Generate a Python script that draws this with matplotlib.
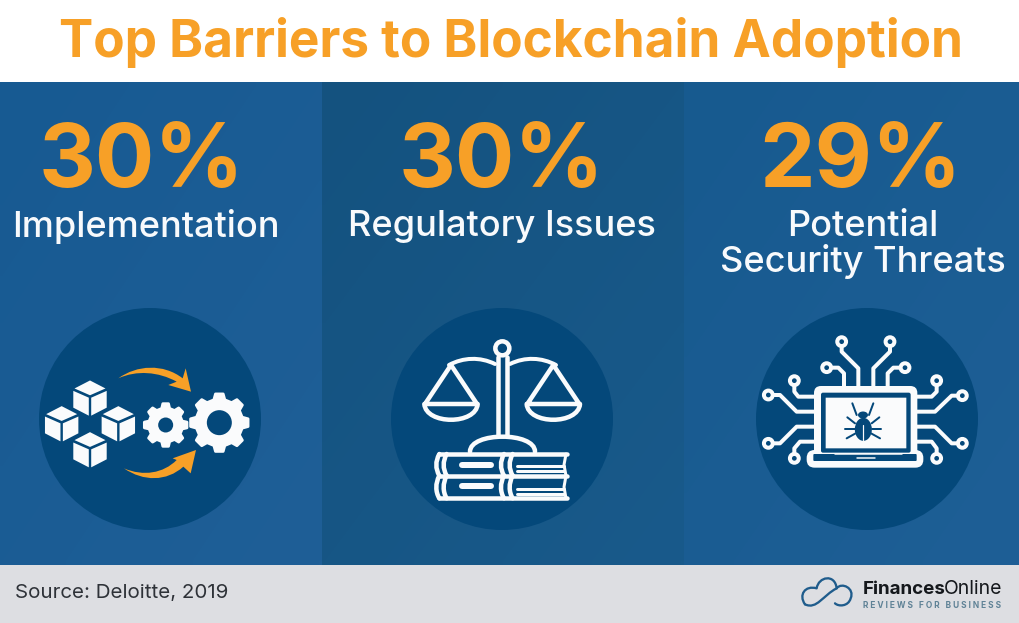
import numpy as np
import matplotlib
matplotlib.use("Agg")
import matplotlib.pyplot as plt
from matplotlib.patches import Circle, Polygon, PathPatch, Rectangle, FancyBboxPatch, Ellipse
from matplotlib.path import Path

title = "Top Barriers to Blockchain Adoption"
percents = ["30%", "30%", "29%"]
labels = [["Implementation"], ["Regulatory Issues"], ["Potential", "Security Threats"]]
source = "Source: Deloitte, 2019"

ORANGE = "#F7A027"
DARK = "#04487A"
WHITE = "#FAFBFC"
FONT = "Inter"

fig = plt.figure(figsize=(10.2, 6.23), dpi=100)
ax = fig.add_axes([0, 0, 1, 1])
ax.set_xlim(0, 1020)
ax.set_ylim(623, 0)
ax.axis("off")


def px(lw):
    return lw * 0.72


def panel(x0, x1, c0, c1):
    # diagonal gradient for one column
    g = np.linspace(0, 1, 64)
    xx, yy = np.meshgrid(g, g)
    t = (xx + yy)[..., None] / 2
    img = np.array(matplotlib.colors.to_rgb(c0)) * (1 - t) + np.array(matplotlib.colors.to_rgb(c1)) * t
    ax.imshow(img, extent=[x0, x1, 565, 82], aspect="auto", zorder=0, interpolation="bilinear")


panel(0, 322, "#175A92", "#1F5F97")
panel(322, 684, "#14527F", "#195A8B")
panel(684, 1020, "#175A8F", "#1E5F96")
ax.set_xlim(0, 1020)
ax.set_ylim(623, 0)

# footer
ax.add_patch(Rectangle((0, 565), 1020, 58, fc="#DDDEE2", ec="none", zorder=1))
ax.text(15, 593, source, fontsize=14.8, family=FONT, color="#2E3238", va="center", zorder=2)

# header
ax.text(511, 37, title, fontsize=37, family=FONT, weight="bold", color=ORANGE, ha="center", va="center_baseline")

# big numbers and captions
num_x = [142, 502, 860]
lab_x = [145.5, 501.5, 863]
for nx, lx, pct, lab in zip(num_x, lab_x, percents, labels):
    ax.text(nx, 155, pct, fontsize=63.5, family=FONT, weight="bold", color=ORANGE, ha="center", va="center_baseline", zorder=3)
    for i, row in enumerate(lab):
        ax.text(lx, 223 + i * 35, row, fontsize=26, family=FONT, weight=500, color="#F8FAFC", ha="center", va="center_baseline", zorder=3)

for cx in [150, 502, 867]:
    ax.add_patch(Circle((cx, 419), 111, fc=DARK, ec="none", zorder=2))


def line(pts, ox, oy, lw=4, color=WHITE, z=4):
    pts = np.array(pts, float) / 3 + [ox, oy]
    ax.plot(pts[:, 0], pts[:, 1], color=color, lw=px(lw), solid_capstyle="round", solid_joinstyle="round", zorder=z)


def curve(verts, codes, ox, oy, fc="none", ec=WHITE, lw=4, z=4):
    v = np.array(verts, float) / 3 + [ox, oy]
    ax.add_patch(PathPatch(Path(v, codes), fc=fc, ec=ec, lw=px(lw), capstyle="round", joinstyle="round", zorder=z))


def gear(cx, cy, r_out, r_in, r_hole, teeth=8):
    ang = []
    rad = []
    step = 2 * np.pi / teeth
    for k in range(teeth):
        a = k * step - np.pi / 2
        ang += [a - 0.30 * step, a - 0.17 * step, a + 0.17 * step, a + 0.30 * step]
        rad += [r_in, r_out, r_out, r_in]
    pts = np.c_[cx + np.array(rad) * np.cos(ang), cy + np.array(rad) * np.sin(ang)]
    ax.add_patch(Polygon(pts, fc=WHITE, ec=WHITE, lw=2, joinstyle="round", zorder=4))
    ax.add_patch(Circle((cx, cy), r_hole, fc=DARK, ec="none", zorder=5))


def cube(cx, cy, w=15.5, h=8, v=18):
    # cx, cy is the front top corner
    g = 1.2
    ax.add_patch(Polygon([(cx, cy - 2 * g), (cx + w, cy - h - g), (cx, cy - 2 * h - g), (cx - w, cy - h - g)], fc=WHITE, ec="none", zorder=4))
    ax.add_patch(Polygon([(cx - g, cy), (cx - g, cy + v), (cx - w - g, cy + v - h), (cx - w - g, cy - h + g)], fc=WHITE, ec="none", zorder=4))
    ax.add_patch(Polygon([(cx + g, cy), (cx + g, cy + v), (cx + w + g, cy + v - h), (cx + w + g, cy - h + g)], fc=WHITE, ec="none", zorder=4))


# icon 1, blocks to gears
ox, oy = 20, 300
for zx, zy in [(210, 293), (125, 370), (295, 370), (210, 448)]:
    cube(zx / 3 + ox, zy / 3 + oy)
gear(437 / 3 + ox, 375 / 3 + oy, 21.5, 17, 7.5)
gear(598 / 3 + ox, 368 / 3 + oy, 29, 23.5, 12.5)
M, L, C = Path.MOVETO, Path.LINETO, Path.CURVE4
curve([(295, 235), (350, 195), (430, 190), (488, 235), (497, 205), (513, 275), (445, 255), (470, 245),
       (415, 215), (350, 210), (295, 235), (295, 235)],
      [M, C, C, C, L, L, L, L, C, C, C, L], ox, oy, fc=ORANGE, ec="none", lw=0)
curve([(312, 505), (370, 530), (430, 520), (470, 480), (458, 475), (528, 450), (512, 520), (490, 500),
       (440, 545), (370, 545), (312, 505), (312, 505)],
      [M, C, C, C, L, L, L, L, C, C, C, L], ox, oy, fc=ORANGE, ec="none", lw=0)

# icon 2, scales and books
ox, oy = 380, 300
ax.add_patch(Circle((367 / 3 + ox, 145 / 3 + oy), 7, fc=DARK, ec=WHITE, lw=px(4.5), zorder=4))
line([(355, 170), (355, 408)], ox, oy, lw=4.5)
line([(380, 170), (380, 408)], ox, oy, lw=4.5)
curve([(345, 192), (300, 170), (250, 172), (207, 195)], [M, C, C, C], ox, oy)
curve([(390, 192), (435, 170), (485, 172), (528, 195)], [M, C, C, C], ox, oy)
for ax0 in (213, 520):
    line([(ax0 - 78, 312), (ax0, 195), (ax0 + 78, 312), (ax0 - 78, 312)], ox, oy, lw=4.5)
    curve([(ax0 - 80, 312), (ax0 - 75, 375), (ax0 + 75, 375), (ax0 + 80, 312)], [M, C, C, C], ox, oy, lw=4.5)
curve([(270, 455), (270, 395), (465, 395), (465, 455)], [M, C, C, C], ox, oy, lw=4.5)
line([(178, 462), (562, 462)], ox, oy, lw=4.5)
line([(178, 527), (562, 527)], ox, oy, lw=4.5)
line([(178, 595), (562, 595)], ox, oy, lw=4.5)
for x in (178, 200, 372, 398):
    curve([(x, 462), (x - 12, 485), (x - 12, 505), (x, 527)], [M, C, C, C], ox, oy, lw=4.5)
    curve([(x, 527), (x - 12, 550), (x - 12, 575), (x, 595)], [M, C, C, C], ox, oy, lw=4.5)
for y in (494, 558):
    line([(245, y), (332, y)], ox, oy, lw=6)
for y in (497, 513, 567, 582):
    line([(410, y), (552, y)], ox, oy, lw=3)
for y0, y1 in [(462, 527), (527, 595)]:
    line([(558, y0), (552, (y0 + y1) / 2), (558, y1)], ox, oy, lw=3)

# icon 3, laptop with traces
ox, oy = 745, 300
traces = [
    [(290, 125), (290, 155), (340, 205), (340, 260)],
    [(435, 125), (435, 155), (385, 205), (385, 260)],
    [(245, 203), (280, 203), (297, 220), (297, 260)],
    [(480, 203), (445, 203), (428, 220), (428, 260)],
    [(148, 242), (148, 275), (160, 290), (210, 290)],
    [(575, 242), (575, 275), (560, 290), (510, 290)],
    [(70, 285), (105, 285), (155, 335), (210, 335)],
    [(652, 287), (620, 287), (570, 335), (515, 335)],
    [(70, 430), (105, 430), (155, 380), (210, 380)],
    [(652, 430), (620, 430), (570, 380), (515, 380)],
    [(148, 475), (148, 445), (165, 425), (210, 425)],
    [(575, 475), (575, 445), (560, 425), (515, 425)],
]
for tr in traces:
    line(tr, ox, oy, lw=4)
    nx, ny = tr[0][0] / 3 + ox, tr[0][1] / 3 + oy
    ax.add_patch(Circle((nx, ny), 4.4, fc=DARK, ec=WHITE, lw=px(4), zorder=5))


def rbox(x0, y0, x1, y1, r, fc, z):
    ax.add_patch(FancyBboxPatch((x0 / 3 + ox + r, y0 / 3 + oy + r), (x1 - x0) / 3 - 2 * r, (y1 - y0) / 3 - 2 * r,
                                boxstyle=f"round,pad={r}", fc=fc, ec="none", zorder=z))


rbox(207, 258, 517, 480, 7, WHITE, 5)
rbox(228, 278, 497, 458, 2, DARK, 5.2)
rbox(242, 293, 484, 445, 0.1, WHITE, 5.4)
rbox(185, 450, 535, 503, 8, WHITE, 5.1)
rbox(205, 462, 515, 483, 1, DARK, 5.15)
line([(270, 463), (472, 463)], ox, oy, lw=1.5, z=5.6)
line([(335, 474), (390, 474)], ox, oy, lw=1.5, z=5.6)

# bug
ax.add_patch(Ellipse((355 / 3 + ox, 388 / 3 + oy), 17, 23, fc=DARK, ec="none", zorder=6))
ax.add_patch(Ellipse((354 / 3 + ox, 345 / 3 + oy), 10, 7, fc=DARK, ec="none", zorder=6))
line([(355, 375), (355, 420)], ox, oy, lw=1.2, z=6.2)
for leg in [[(335, 345), (322, 310)], [(372, 345), (385, 310)], [(330, 370), (307, 352)], [(380, 370), (403, 352)],
            [(330, 388), (300, 388)], [(380, 388), (408, 388)], [(332, 400), (305, 415)], [(378, 400), (405, 415)]]:
    line(leg, ox, oy, lw=2, color=DARK, z=6)

# logo
ox, oy = 780, 565
curve([(75, 118), (55, 90), (75, 60), (110, 70), (115, 35), (165, 25), (170, 70), (185, 50), (225, 70), (212, 100), (205, 125), (175, 125), (165, 115)],
      [M, C, C, C, C, C, C, C, C, C, C, C, C], ox, oy, ec="#1F5C8C", lw=2.3, z=3)
curve([(75, 118), (110, 135), (130, 90), (170, 70)], [M, C, C, C], ox, oy, ec="#1F5C8C", lw=2.3, z=3)
ax.text(863, 587, "Finances", fontsize=13.5, family=FONT, weight="bold", color="#15181C", va="center_baseline", zorder=3)
ax.text(944, 587, "Online", fontsize=14, family=FONT, color="#15181C", va="center_baseline", zorder=3)
ax.text(863, 604, "R E V I E W S   F O R   B U S I N E S S", fontsize=6, family=FONT, weight="bold", color="#5F8296", va="center_baseline", zorder=3)

fig.savefig("out.png", dpi=100)
